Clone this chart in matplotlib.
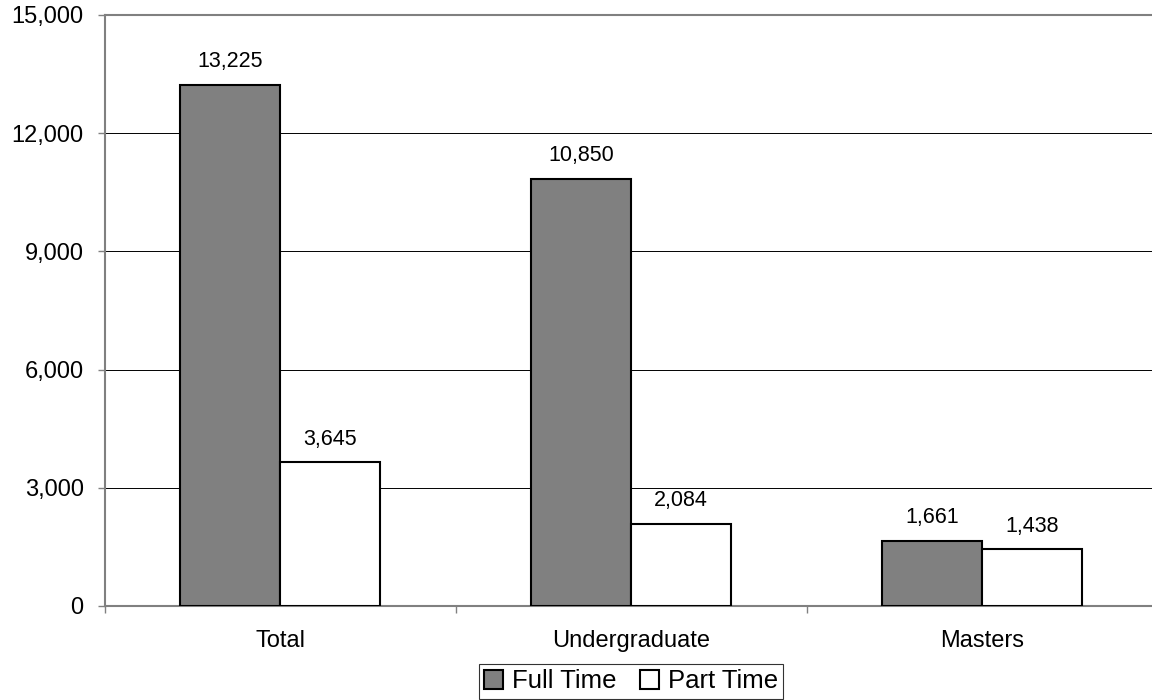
import matplotlib
matplotlib.use("Agg")
import matplotlib.pyplot as plt
import numpy as np

categories = ["Total", "Undergraduate", "Masters"]
full_time = [13225, 10850, 1661]
part_time = [3645, 2084, 1438]
series_names = ["Full Time", "Part Time"]
yticks = [0, 3000, 6000, 9000, 12000, 15000]

plt.rcParams['font.family'] = ['Liberation Sans', 'DejaVu Sans']

fig = plt.figure(figsize=(11.52, 7.0), dpi=100)
ax = fig.add_axes([104.5/1152, 1-606/700, (1157.5-104.5)/1152, (606-15)/700])

x = np.arange(len(categories))
w = 0.286
b1 = ax.bar(x - w/2, full_time, w, color='#808080', edgecolor='black', linewidth=1.5, label=series_names[0], zorder=3)
b2 = ax.bar(x + w/2, part_time, w, color='white', edgecolor='black', linewidth=1.5, label=series_names[1], zorder=3)

for bars, vals in ((b1, full_time), (b2, part_time)):
    for r, v in zip(bars, vals):
        ax.annotate(f"{v:,}", (r.get_x() + r.get_width()/2, v), xytext=(0, 9),
                    textcoords='offset points', ha='center', va='bottom', fontsize=15.5)

ax.set_xlim(-0.5, len(categories) - 0.5)
ax.set_ylim(0, 15000)
ax.set_yticks(yticks)
ax.set_yticklabels([f"{t:,}" for t in yticks], fontsize=17)
ax.yaxis.grid(True, color='black', linewidth=0.7, zorder=0)
ax.set_axisbelow(True)

ax.set_xticks(np.arange(len(categories) + 1) - 0.5)
ax.set_xticklabels([])
ax.set_xticks(x, minor=True)
ax.set_xticklabels(categories, minor=True, fontsize=17)
ax.tick_params(axis='x', which='minor', length=0, pad=17)
ax.tick_params(axis='x', which='major', length=5, color='#808080', width=1)
ax.tick_params(axis='y', length=5, color='#808080', width=1, pad=10)

for s in ('left', 'bottom', 'top'):
    ax.spines[s].set_color('#808080')
    ax.spines[s].set_linewidth(1.5)
ax.spines['right'].set_visible(False)

leg = fig.legend(handles=[b1, b2], loc='lower center', bbox_to_anchor=(631/1152, 1.5/700),
                 ncol=2, fontsize=18.5, frameon=True, fancybox=False, edgecolor='black',
                 handlelength=0.75, handleheight=0.75, handletextpad=0.35, columnspacing=0.9,
                 borderpad=0.2, borderaxespad=0)
leg.get_frame().set_linewidth(0.8)

fig.savefig("out.png", dpi=100)
